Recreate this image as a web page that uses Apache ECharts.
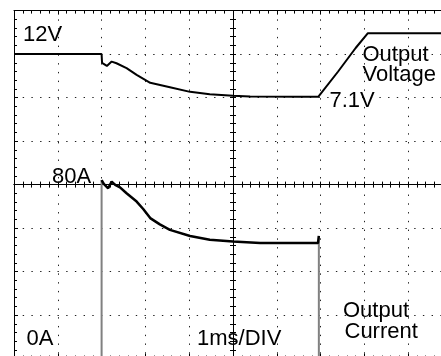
<!DOCTYPE html>
<html>
<head>
<meta charset="utf-8">
<script src="https://cdn.jsdelivr.net/npm/echarts@6/dist/echarts.min.js"></script>
<style>
  html, body { margin: 0; padding: 0; background: #fff; }
  #chart { width: 441px; height: 356px; }
</style>
</head>
<body>
<div id="chart"></div>
<script>
// Time base: 1 ms per division, 10 divisions across the screen
const timeRange = [0, 10];

// Output voltage trace (time in ms, volts); channel at 5 V/div
const voltTime = [0, 1.0, 2.0, 2.01, 2.12, 2.23, 2.34, 2.57, 2.8, 3.11, 3.56, 4.02, 4.47, 5.0, 5.39, 6.53, 6.95, 7.4, 7.8, 8.08, 9.0, 10.0];
const voltValue = [12, 12, 12, 11.0, 10.64, 11.14, 10.95, 10.38, 9.61, 8.7, 8.2, 7.66, 7.39, 7.2, 7.12, 7.1, 7.1, 10.0, 12.7, 14.4, 14.4, 14.4];

// Output current trace (time in ms, amps); channel at 20 A/div, 0 A at the bottom edge
const ampTime = [2.0, 2.05, 2.15, 2.23, 2.31, 2.42, 2.57, 2.8, 2.95, 3.11, 3.33, 3.56, 4.02, 4.47, 5.0, 5.62, 6.53, 6.94, 6.96];
const ampValue = [82.1, 80.3, 78.3, 81.4, 79.9, 78.7, 76.0, 72.2, 68.8, 64.6, 61.7, 59.2, 56.4, 54.6, 53.8, 53.2, 53.1, 53.1, 56.4];

// Switching edges of the current (load on / load off)
const edgeTime = [2.0, 6.96];

// Channel scales (per division) and screen layout in divisions
const voltsPerDiv = 5;
const ampsPerDiv = 20;
const divX = 10, divY = 8;

const voltTop = 12 + voltsPerDiv;               // 12 V sits one division below the top
const voltBottom = voltTop - divY * voltsPerDiv;
const ampTop = divY * ampsPerDiv;

const gridLeft = 14, gridTop = 10.6;
const divW = 43.8, divH = 43.5;

const voltData = voltTime.map((t, i) => [t, voltValue[i]]);
const ampData = ampTime.map((t, i) => [t, ampValue[i]]);
const riseEdge = [[edgeTime[0], 0], [edgeTime[0], ampValue[0]]];
const fallEdge = [[edgeTime[1], ampValue[ampValue.length - 1]], [edgeTime[1], 0]];

const ink = '#000';
const dotted = { color: '#222', width: 1, type: [1.4, divW / 5 - 1.4] };
const dottedY = { color: '#222', width: 1, type: [1.4, divH / 5 - 1.4] };

function hAxis(extra) {
  return Object.assign({
    type: 'value', min: timeRange[0], max: timeRange[1], interval: 1,
    axisLabel: { show: false },
    axisLine: { show: true, onZero: false, lineStyle: { color: ink, width: 1 } },
    axisTick: { show: true, inside: true, length: 4, lineStyle: { color: ink } },
    minorTick: { show: true, splitNumber: 5, length: 3, lineStyle: { color: ink } },
    splitLine: { show: false },
    minorSplitLine: { show: false }
  }, extra);
}
function vAxis(extra) {
  return Object.assign({
    type: 'value', min: 0, max: ampTop, interval: ampsPerDiv,
    axisLabel: { show: false },
    axisLine: { show: true, onZero: false, lineStyle: { color: ink, width: 1 } },
    axisTick: { show: true, inside: true, length: 4, lineStyle: { color: ink } },
    minorTick: { show: true, splitNumber: 5, length: 3, lineStyle: { color: ink } },
    splitLine: { show: false },
    minorSplitLine: { show: false }
  }, extra);
}

const font = '22px "Liberation Sans", Arial, sans-serif';
function label(text, x, y) {
  return {
    type: 'text', x: x, y: y, z: 100,
    style: { text: text, font: font, fill: ink, align: 'left', verticalAlign: 'middle' }
  };
}

const chart = echarts.init(document.getElementById('chart'), null, { renderer: 'canvas' });
chart.setOption({
  animation: false,
  backgroundColor: '#fff',
  grid: {
    left: gridLeft, top: gridTop, width: divX * divW, height: divY * divH,
    containLabel: false, outerBoundsMode: 'none'
  },
  xAxis: [
    // top frame edge, with the dotted vertical graticule
    hAxis({ position: 'top', splitLine: { show: true, lineStyle: dotted } }),
    // centre horizontal line, ticks on both sides
    hAxis({ position: 'top', offset: -4 * divH, axisTick: { show: true, inside: true, length: 3, lineStyle: { color: ink } } }),
    hAxis({ position: 'top', offset: -4 * divH, axisTick: { show: true, inside: false, length: 3, lineStyle: { color: ink } } }),
    // bottom frame edge
    hAxis({ position: 'bottom', axisTick: { show: true, inside: true, length: 5, lineStyle: { color: ink } } })
  ],
  yAxis: [
    // voltage channel scale (not drawn)
    { type: 'value', min: voltBottom, max: voltTop, show: false, splitLine: { show: false } },
    // left frame edge, with the dotted horizontal graticule (current scale)
    vAxis({ position: 'left', splitLine: { show: true, lineStyle: dottedY } }),
    // centre vertical line, ticks on both sides
    vAxis({ position: 'left', offset: -5 * divW, axisTick: { show: true, inside: true, length: 3, lineStyle: { color: ink } } }),
    vAxis({ position: 'left', offset: -5 * divW, axisTick: { show: true, inside: false, length: 3, lineStyle: { color: ink } } })
  ],
  series: [
    {
      name: 'Output Voltage', type: 'line', xAxisIndex: 0, yAxisIndex: 0,
      data: voltData, showSymbol: false, symbol: 'none',
      lineStyle: { color: ink, width: 2 }, z: 10
    },
    {
      name: 'Output Current', type: 'line', xAxisIndex: 0, yAxisIndex: 1,
      data: ampData, showSymbol: false, symbol: 'none',
      lineStyle: { color: ink, width: 2.5 }, z: 10
    },
    {
      name: 'Current rise', type: 'line', xAxisIndex: 0, yAxisIndex: 1,
      data: riseEdge, showSymbol: false, symbol: 'none',
      lineStyle: { color: '#808080', width: 2 }, z: 9
    },
    {
      name: 'Current fall', type: 'line', xAxisIndex: 0, yAxisIndex: 1,
      data: fallEdge, showSymbol: false, symbol: 'none',
      lineStyle: { color: '#808080', width: 2 }, z: 9
    }
  ],
  graphic: [
    label('12V', 23, 34.5),
    label('Output', 362.5, 55.3),
    label('Voltage', 362.5, 75),
    label('7.1V', 329.5, 101.4),
    label('80A', 52, 177.3),
    label('0A', 26.5, 338.8),
    label('1ms/DIV', 197, 338.5),
    label('Output', 343, 311.4),
    label('Current', 344.5, 332)
  ]
});
</script>
</body>
</html>
